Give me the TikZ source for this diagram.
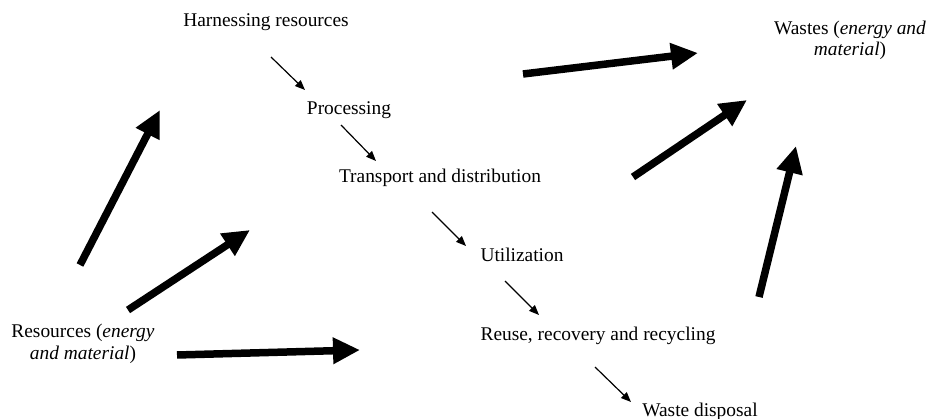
\documentclass[tikz,border=0pt]{standalone}
\usepackage{fontspec}
\setmainfont{Liberation Serif}
\usetikzlibrary{arrows.meta}
\begin{document}
\begin{tikzpicture}[x=1pt,y=-1pt,
  lbl/.style={inner sep=0pt,anchor=base,font=\fontsize{19.4}{21}\selectfont,align=center},
  thin/.style={line width=1.2pt,-{Triangle[length=10pt,width=8pt]}},
  thick/.style={line width=7.5pt,-{Triangle[length=27pt,width=25pt]}}]
\useasboundingbox (0,0) rectangle (928,419);
% text nodes
\node[lbl] (harn) at (266,26.5) {Harnessing resources};
\node[lbl] (proc) at (349,114.5) {Processing};
\node[lbl] (trans) at (440,183) {Transport and distribution};
\node[lbl] (util) at (522,262) {Utilization};
\node[lbl] (reuse) at (598,340) {Reuse, recovery and recycling};
\node[lbl] (disp) at (700,416.5) {Waste disposal};
\node[lbl] (res) at (83,359) {Resources (\textit{energy}\\\textit{and material})};
\node[lbl] (wst) at (850,56) {Wastes (\textit{energy and}\\\textit{material})};
% thin arrow endpoints
\coordinate (t1a) at (271,57);  \coordinate (t1b) at (305,90);
\coordinate (t2a) at (341,125); \coordinate (t2b) at (376,161);
\coordinate (t3a) at (432,212); \coordinate (t3b) at (466,246);
\coordinate (t4a) at (505,281); \coordinate (t4b) at (539,315);
\coordinate (t5a) at (595,367); \coordinate (t5b) at (631,402);
\draw[thin] (t1a) -- (t1b);
\draw[thin] (t2a) -- (t2b);
\draw[thin] (t3a) -- (t3b);
\draw[thin] (t4a) -- (t4b);
\draw[thin] (t5a) -- (t5b);
% thick arrow endpoints
\coordinate (ka1) at (80,265);  \coordinate (kb1) at (160,110);
\coordinate (ka2) at (128,310); \coordinate (kb2) at (250,230);
\coordinate (ka3) at (177,355); \coordinate (kb3) at (360,350);
\coordinate (ka4) at (523,74);  \coordinate (kb4) at (698,53);
\coordinate (ka5) at (633,177); \coordinate (kb5) at (747,100);
\coordinate (ka6) at (759,297); \coordinate (kb6) at (796,146);
\draw[thick] (ka1) -- (kb1);
\draw[thick] (ka2) -- (kb2);
\draw[thick] (ka3) -- (kb3);
\draw[thick] (ka4) -- (kb4);
\draw[thick] (ka5) -- (kb5);
\draw[thick] (ka6) -- (kb6);
\end{tikzpicture}
\end{document}
